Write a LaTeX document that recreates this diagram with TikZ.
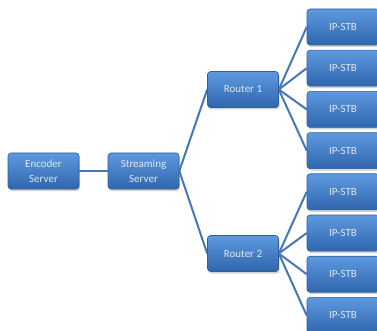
\documentclass[tikz,border=0pt]{standalone}
\usepackage{fontspec}
\setmainfont{Carlito}
\usetikzlibrary{shadows}
\pgfdeclarelayer{bglines}
\pgfsetlayers{bglines,main}
\definecolor{boxtop}{HTML}{5E99DF}
\definecolor{boxbot}{HTML}{2F66AD}
\definecolor{boxedge}{HTML}{2F5F9F}
\definecolor{linkcol}{HTML}{4777B4}
\definecolor{txtcol}{HTML}{DDE7F4}
\begin{document}
\begin{tikzpicture}[x=1pt,y=-1pt,
  devbox/.style={rectangle, rounded corners=3pt, draw=boxedge, line width=0.6pt,
    top color=boxtop, bottom color=boxbot, minimum width=71pt, minimum height=36pt,
    inner sep=1pt, align=center, text=txtcol, font=\fontsize{11}{15}\selectfont,
    drop shadow={opacity=0.35, shadow xshift=1pt, shadow yshift=-2pt}},
  link/.style={draw=linkcol, line width=2pt}]
\useasboundingbox (0,0) rectangle (377,331);
\clip (0,0) rectangle (377,331);
% nodes
\node[devbox] (enc) at (43.5,171) {Encoder\\Server};
\node[devbox] (str) at (143.5,171) {Streaming\\Server};
\node[devbox] (r1) at (243,89.5) {Router 1};
\node[devbox] (r2) at (243,253.5) {Router 2};
\foreach \i in {0,...,7}{
  \node[devbox, minimum width=72pt] (s\i) at (343,{27+41.2*\i}) {IP-STB};
}
% connectors behind nodes
\begin{pgfonlayer}{bglines}
\fill[white] (0,0) rectangle (377,331);
\draw[link] (enc.east) -- (str.west);
\draw[link] (str.east) -- (r1.west);
\draw[link] (str.east) -- (r2.west);
\foreach \i in {0,...,3}{\draw[link] (r1.east) -- (s\i.west);}
\foreach \i in {4,...,7}{\draw[link] (r2.east) -- (s\i.west);}
\end{pgfonlayer}
\end{tikzpicture}
\end{document}
